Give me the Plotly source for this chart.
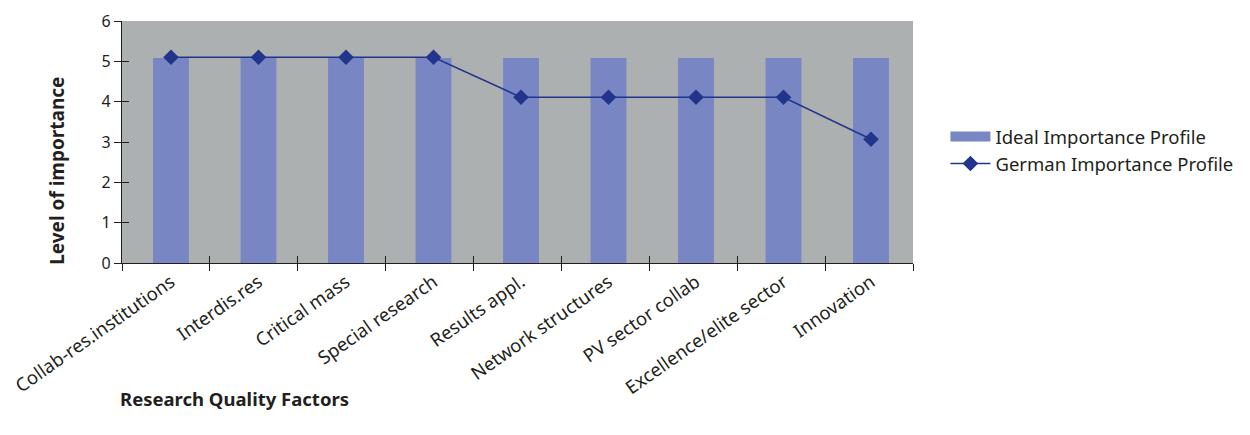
import plotly.graph_objects as go

categories = ["Collab-res.institutions", "Interdis.res", "Critical mass", "Special research",
              "Results appl.", "Network structures", "PV sector collab", "Excellence/elite sector",
              "Innovation"]
ideal = [5.08, 5.08, 5.08, 5.08, 5.08, 5.08, 5.08, 5.08, 5.08]
german = [5.1, 5.1, 5.1, 5.1, 4.11, 4.11, 4.11, 4.11, 3.07]
y_ticks = [0, 1, 2, 3, 4, 5, 6]

FONT = "Noto Sans, Open Sans, sans-serif"
TXT = "#231F20"
BAR = "#7886C4"
LINE = "#22358C"

fig = go.Figure()
fig.add_trace(go.Bar(x=categories, y=ideal, name="Ideal Importance Profile",
                     marker=dict(color=BAR, line=dict(width=0)), showlegend=False))
# legend proxy for bars (wide rectangular swatch)
fig.add_trace(go.Scatter(x=[categories[0]], y=[None], name="Ideal Importance Profile", mode="lines",
                         line=dict(color=BAR, width=13)))
fig.add_trace(go.Scatter(x=categories, y=german, name="German Importance Profile",
                         mode="lines+markers",
                         line=dict(color=LINE, width=1.6),
                         marker=dict(symbol="diamond", size=12, color=LINE)))
# empty helpers so the crossing tick-mark axes get drawn
fig.add_trace(go.Scatter(x=[None], y=[None], xaxis="x2", yaxis="y2", showlegend=False,
                         hoverinfo="skip", mode="lines"))
fig.add_trace(go.Scatter(x=[None], y=[None], xaxis="x3", yaxis="y2", showlegend=False,
                         hoverinfo="skip", mode="lines"))

n = len(categories)
boundaries = [i - 0.5 for i in range(n + 1)]
tick_axis = dict(range=[-0.5, n - 0.5], tickvals=boundaries, ticklen=7, tickcolor=TXT,
                 tickwidth=1.2, showticklabels=False, showgrid=False, zeroline=False,
                 side="bottom", showline=False, automargin=False, overlaying="x", anchor="y2")
fig.update_layout(
    width=1250, height=435,
    margin=dict(l=122, r=322, t=21, b=172),
    paper_bgcolor="white", plot_bgcolor="#ADB0B0",
    bargap=0.59,
    font=dict(family=FONT, color=TXT, size=15),
    showlegend=True,
    legend=dict(x=1.041, y=0.465, xanchor="left", yanchor="middle",
                font=dict(size=18.5, color=TXT), bgcolor="rgba(0,0,0,0)",
                tracegroupgap=0, itemwidth=40),
    xaxis=dict(type="category", range=[-0.56, n - 0.52], showline=True, linecolor=TXT,
               linewidth=1.2, ticks="", tickangle=-35, tickfont=dict(size=18.5),
               showgrid=False, automargin=False),
    yaxis=dict(range=[0, 6], tickvals=y_ticks, showline=True, linecolor=TXT,
               linewidth=1.2, ticks="outside", ticklen=7, tickcolor=TXT, tickwidth=1.2,
               tickfont=dict(size=16), showgrid=False, zeroline=False, automargin=False),
    xaxis2=dict(tick_axis, ticks="outside"),
    xaxis3=dict(tick_axis, ticks="inside"),
    yaxis2=dict(overlaying="y", anchor="x", range=[0, 6], tickvals=y_ticks,
                ticks="inside", ticklen=7, tickcolor=TXT, tickwidth=1.2, showticklabels=False,
                showgrid=False, zeroline=False, side="left", showline=False, automargin=False),
)
fig.add_annotation(text="<b>Level of importance</b>", xref="paper", yref="paper",
                   x=(55 - 122) / 806, y=(262 - 170) / 241, xanchor="center", yanchor="middle",
                   textangle=-90, showarrow=False, font=dict(size=19, color=TXT))
fig.add_annotation(text="<b>Research Quality Factors</b>", xref="paper", yref="paper",
                   x=(237 - 122) / 806, y=-(397 - 262) / 241, xanchor="center", yanchor="middle",
                   showarrow=False, font=dict(size=18.5, color=TXT))

fig.write_html("out.html")
